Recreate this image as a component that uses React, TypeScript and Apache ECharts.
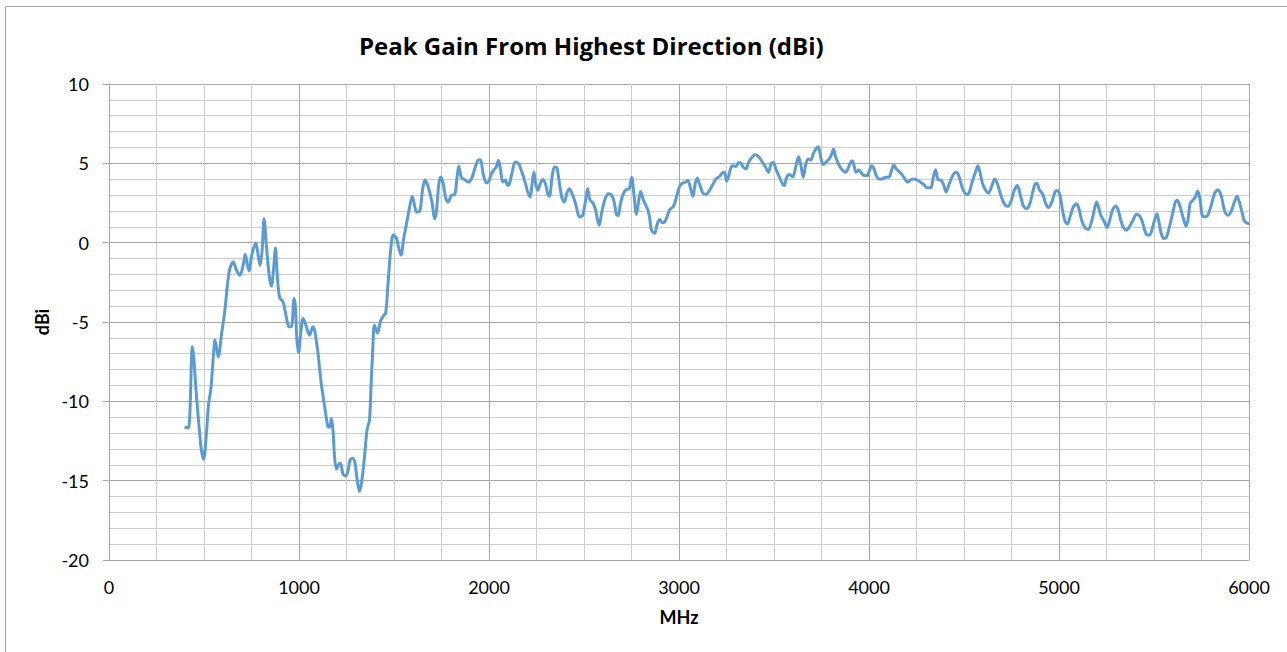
import React, { useEffect, useRef } from "react";
import * as echarts from "echarts";

const titleText = "Peak Gain From Highest Direction (dBi)";
const xAxisName = "MHz";
const yAxisName = "dBi";

const freqMHz: number[] = [
  397, 418, 439, 462, 484, 498, 514, 523, 537, 549, 558, 575, 593, 610, 624, 636, 654, 671, 689, 706,
  717, 736, 753, 773, 781, 795, 806, 816, 829, 843, 855, 867, 876, 886, 898, 916, 933, 947, 960, 974,
  981, 989, 998, 1009, 1021, 1033, 1056, 1073, 1082, 1100, 1117, 1135, 1152, 1161, 1171, 1180, 1187, 1197, 1208, 1218,
  1231, 1244, 1257, 1269, 1283, 1295, 1306, 1318, 1330, 1344, 1358, 1371, 1379, 1388, 1397, 1413, 1429, 1445, 1456, 1468,
  1482, 1496, 1512, 1525, 1537, 1550, 1566, 1584, 1596, 1610, 1619, 1636, 1650, 1663, 1680, 1698, 1715, 1724, 1736, 1747,
  1759, 1773, 1785, 1802, 1820, 1832, 1841, 1855, 1873, 1890, 1908, 1925, 1942, 1955, 1969, 1986, 2000, 2012, 2024, 2038,
  2050, 2061, 2073, 2087, 2098, 2108, 2122, 2138, 2155, 2173, 2192, 2204, 2217, 2227, 2236, 2245, 2257, 2269, 2283, 2297,
  2309, 2318, 2332, 2344, 2357, 2371, 2385, 2397, 2409, 2423, 2441, 2458, 2476, 2493, 2507, 2519, 2531, 2547, 2560, 2570,
  2580, 2593, 2610, 2628, 2645, 2658, 2671, 2680, 2692, 2706, 2720, 2738, 2751, 2763, 2776, 2787, 2798, 2812, 2825, 2837,
  2846, 2855, 2872, 2886, 2899, 2913, 2925, 2937, 2951, 2965, 2977, 2989, 3003, 3017, 3035, 3047, 3059, 3073, 3085, 3096,
  3108, 3125, 3143, 3160, 3178, 3195, 3213, 3227, 3239, 3251, 3262, 3274, 3286, 3300, 3314, 3326, 3339, 3353, 3366, 3384,
  3401, 3419, 3436, 3454, 3471, 3484, 3496, 3510, 3526, 3545, 3554, 3566, 3580, 3598, 3615, 3629, 3641, 3654, 3668, 3681,
  3694, 3706, 3720, 3733, 3746, 3759, 3773, 3790, 3804, 3813, 3825, 3839, 3851, 3863, 3877, 3891, 3903, 3912, 3921, 3933,
  3947, 3961, 3974, 3991, 4003, 4014, 4026, 4038, 4052, 4070, 4087, 4105, 4119, 4131, 4143, 4157, 4171, 4189, 4203, 4219,
  4236, 4253, 4271, 4288, 4306, 4325, 4338, 4350, 4362, 4379, 4392, 4406, 4419, 4437, 4455, 4467, 4479, 4496, 4514, 4528,
  4545, 4563, 4573, 4584, 4598, 4615, 4629, 4647, 4662, 4676, 4694, 4711, 4729, 4746, 4764, 4781, 4795, 4811, 4828, 4845,
  4860, 4874, 4883, 4897, 4914, 4927, 4944, 4962, 4979, 4991, 5005, 5017, 5031, 5044, 5058, 5075, 5093, 5107, 5119, 5136,
  5154, 5171, 5189, 5198, 5210, 5220, 5236, 5253, 5267, 5281, 5299, 5311, 5323, 5337, 5355, 5372, 5390, 5407, 5425, 5439,
  5451, 5463, 5477, 5491, 5503, 5516, 5526, 5538, 5551, 5565, 5579, 5596, 5612, 5622, 5638, 5652, 5669, 5680, 5690, 5704,
  5718, 5730, 5743, 5753, 5766, 5783, 5801, 5818, 5836, 5853, 5871, 5888, 5905, 5923, 5937, 5949, 5963, 5975, 5993, 6000,
];

const gainDbi: number[] = [
  -11.63, -11.68, -6.56, -9.9, -12.85, -13.65, -11.8, -10.3, -9.1, -7.2, -6.14, -7.2, -5.7, -4.26, -2.58, -1.64, -1.22, -1.74, -2.05, -1.43,
  -0.73, -1.78, -0.69, -0.02, -0.48, -1.43, -0.48, 1.51, -0.27, -2.05, -2.75, -1.53, -0.34, -2.16, -3.46, -3.73, -4.68, -5.3, -5.3, -3.52,
  -4.05, -6.14, -6.94, -5.72, -4.78, -5.09, -5.83, -5.3, -5.51, -6.98, -8.87, -10.34, -11.59, -11.63, -11.07, -12.0, -13.48, -14.28, -14.0, -13.9,
  -14.57, -14.7, -14.42, -13.69, -13.58, -13.9, -14.95, -15.68, -15.05, -13.58, -11.8, -11.17, -9.08, -6.77, -5.2, -5.7, -4.95, -4.6, -4.45, -2.7,
  -0.5, 0.48, 0.3, -0.35, -0.8, 0.2, 1.2, 2.35, 2.92, 2.25, 1.93, 2.0, 3.3, 3.97, 3.51, 2.67, 1.51, 2.04, 3.72, 4.14,
  3.72, 2.77, 2.56, 2.98, 3.05, 4.14, 4.81, 4.1, 3.97, 3.82, 4.03, 4.66, 5.19, 5.23, 4.35, 3.76, 3.89, 4.35, 4.56, 4.77,
  5.19, 4.56, 3.82, 3.93, 3.61, 3.72, 4.45, 5.08, 4.98, 4.45, 3.72, 3.19, 2.88, 3.72, 4.45, 3.72, 3.3, 3.72, 3.97, 3.72,
  3.09, 2.92, 4.14, 4.77, 4.73, 3.72, 2.77, 2.56, 3.09, 3.4, 2.98, 2.35, 1.62, 1.72, 2.56, 3.4, 2.7, 2.5, 2.1, 1.5,
  1.1, 1.9, 2.72, 3.08, 3.0, 2.6, 1.78, 1.7, 2.46, 3.05, 3.33, 3.4, 4.13, 3.0, 1.78, 2.56, 3.22, 2.7, 2.35, 2.04,
  1.52, 0.79, 0.58, 1.21, 1.46, 1.25, 1.31, 1.63, 2.08, 2.21, 2.46, 2.98, 3.54, 3.75, 3.81, 3.92, 3.5, 2.92, 3.71, 4.08,
  3.71, 3.13, 3.04, 3.29, 3.67, 4.02, 4.17, 4.38, 4.44, 3.88, 4.23, 4.75, 4.85, 4.79, 5.06, 5.0, 4.75, 4.65, 5.06, 5.38,
  5.54, 5.42, 5.13, 4.79, 4.44, 4.96, 5.06, 4.65, 4.2, 3.7, 3.6, 4.1, 4.3, 4.15, 4.8, 5.42, 4.9, 4.13, 4.98, 5.27,
  5.2, 5.58, 5.9, 6.04, 5.38, 4.92, 5.06, 5.27, 5.58, 5.9, 5.38, 4.96, 4.71, 4.54, 4.44, 4.71, 5.06, 5.17, 4.85, 4.44,
  4.58, 4.38, 4.23, 4.23, 4.58, 4.85, 4.65, 4.23, 4.02, 4.02, 4.13, 4.13, 4.58, 4.9, 4.65, 4.5, 4.33, 4.02, 3.81, 3.96,
  4.02, 3.96, 3.81, 3.67, 3.46, 3.46, 4.1, 4.6, 4.0, 3.92, 3.67, 3.19, 3.6, 4.13, 4.44, 4.38, 3.96, 3.29, 3.04, 3.19,
  3.92, 4.54, 4.85, 4.44, 3.71, 3.29, 3.13, 3.6, 4.02, 3.71, 2.98, 2.46, 2.29, 2.56, 3.29, 3.6, 3.08, 2.35, 2.15, 2.4,
  3.1, 3.71, 3.75, 3.33, 3.08, 2.56, 2.21, 2.56, 3.19, 3.29, 2.98, 2.15, 1.38, 1.17, 1.63, 2.25, 2.46, 2.04, 1.42, 0.96,
  0.83, 1.31, 2.25, 2.56, 2.15, 1.73, 1.38, 0.96, 1.42, 2.04, 2.29, 2.08, 1.52, 1.0, 0.79, 1.04, 1.42, 1.79, 1.67, 1.31,
  0.79, 0.48, 0.48, 0.9, 1.42, 1.83, 1.31, 0.58, 0.27, 0.33, 0.9, 1.73, 2.56, 2.67, 2.25, 1.63, 1.04, 1.52, 2.46, 2.67,
  2.88, 3.25, 2.67, 1.73, 1.63, 1.73, 2.35, 3.08, 3.33, 2.98, 2.04, 1.73, 1.94, 2.56, 2.92, 2.56, 1.94, 1.38, 1.21, 1.2,
];

const FONT = "Lato, 'Noto Sans', sans-serif";
const TITLE_FONT = "'Open Sans', 'Noto Sans', sans-serif";

export default function App() {
  const ref = useRef<HTMLDivElement>(null);
  useEffect(() => {
    if (!ref.current) return;
    const chart = echarts.init(ref.current, null, { renderer: "svg" });
    const data = freqMHz.map((f, i) => [f, gainDbi[i]]);
    chart.setOption({
      animation: false,
      backgroundColor: "#ffffff",
      textStyle: { fontFamily: FONT },
      title: {
        text: titleText,
        left: 354,
        top: 28,
        textStyle: { fontFamily: TITLE_FONT, fontSize: 24, fontWeight: "bold", color: "#000000" },
      },
      graphic: [
        {
          type: "rect",
          shape: { x: 5.5, y: 6.5, width: 1300, height: 700 },
          style: { fill: "none", stroke: "#a6a6a6", lineWidth: 1 },
          silent: true,
        },
      ],
      grid: { left: 109, right: 38, top: 84, bottom: 92, containLabel: false },
      xAxis: {
        type: "value",
        min: 0,
        max: 6000,
        interval: 1000,
        name: xAxisName,
        nameLocation: "middle",
        nameGap: 48,
        nameTextStyle: { fontFamily: FONT, fontSize: 18, fontWeight: "bold", color: "#000000" },
        axisLine: { show: true, lineStyle: { color: "#a6a6a6", width: 1 } },
        axisTick: { show: false },
        axisLabel: {
          fontFamily: FONT,
          fontSize: 18,
          color: "#000000",
          margin: 18,
          formatter: (v: number) => String(v),
        },
        splitLine: { show: true, lineStyle: { color: "#a6a6a6", width: 1 } },
        minorTick: { show: false, splitNumber: 4 },
        minorSplitLine: { show: true, lineStyle: { color: "#cccccc", width: 1 } },
      },
      yAxis: {
        type: "value",
        min: -20,
        max: 10,
        interval: 5,
        name: yAxisName,
        nameLocation: "middle",
        nameGap: 54,
        nameRotate: 90,
        nameTextStyle: { fontFamily: FONT, fontSize: 18, fontWeight: "bold", color: "#000000" },
        axisLine: { show: true, lineStyle: { color: "#a6a6a6", width: 1 } },
        axisTick: { show: true, length: 6, lineStyle: { color: "#a6a6a6" } },
        axisLabel: { fontFamily: FONT, fontSize: 18, color: "#000000", margin: 20 },
        splitLine: { show: true, lineStyle: { color: "#a6a6a6", width: 1 } },
        minorTick: { show: false, splitNumber: 5 },
        minorSplitLine: { show: true, lineStyle: { color: "#cccccc", width: 1 } },
      },
      series: [
        {
          type: "line",
          data,
          showSymbol: false,
          smooth: 0.3,
          lineStyle: { color: "#5b9bd5", width: 3 },
          itemStyle: { color: "#5b9bd5" },
        },
      ],
    });
    return () => chart.dispose();
  }, []);
  return (
    <div
      ref={ref}
      style={{ position: "absolute", left: 0, top: 0, width: 1287, height: 652, background: "#ffffff" }}
    />
  );
}
